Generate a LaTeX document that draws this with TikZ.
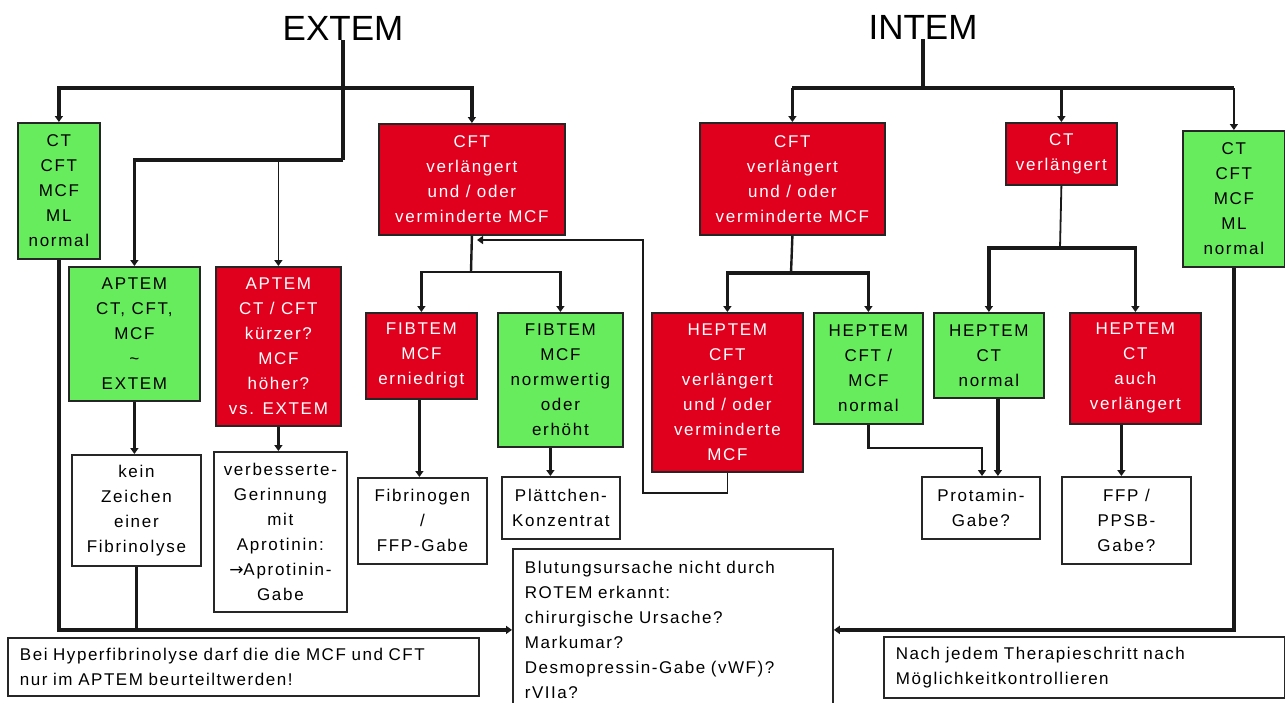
\documentclass[tikz,border=0pt]{standalone}
\usepackage{fontspec}
\setmainfont{Liberation Sans}
\newfontfamily\bxf{Liberation Sans}[LetterSpace=10]
\newfontfamily\btf{Liberation Sans}[LetterSpace=9]
\newfontfamily\arrf{DejaVu Sans}
\usetikzlibrary{arrows.meta}
\definecolor{exred}{RGB}{224,0,30}
\definecolor{exgreen}{RGB}{102,236,92}
\tikzset{
  bx/.style={draw=black!85, line width=1.8pt, anchor=north west, inner sep=0pt, align=center,
    font={\bxf\fontsize{17}{25}\selectfont}},
  redbx/.style={bx, fill=exred, text=white},
  grnbx/.style={bx, fill=exgreen, text=black},
  whbx/.style={bx, fill=white, text=black},
  notebx/.style={bx, fill=white, text=black, align=left, inner xsep=12pt,
    font={\btf\fontsize{17}{25}\selectfont}},
  title/.style={font={\fontsize{35}{40}\selectfont}, inner sep=0pt},
  tip/.style={-{Triangle[length=6pt,width=8pt]}},
  thk/.style={line width=3.2pt, draw=black!90},
  mid/.style={line width=2.4pt, draw=black!90},
  thn/.style={line width=1.8pt, draw=black!90}
}
\begin{document}
\begin{tikzpicture}[x=1pt,y=-1pt]
\useasboundingbox (0,0) rectangle (1285,702);
\clip (0,0) rectangle (1285,702);
\fill[white] (0,0) rectangle (1285,702);

% titles
\node[title] (extem) at (343,28) {EXTEM};
\node[title] (intem) at (923,27) {INTEM};

% EXTEM side
\node[grnbx, minimum width=82, minimum height=136] (ctL) at (17,122) {CT\\CFT\\MCF\\ML\\normal};
\node[redbx, minimum width=186, minimum height=111] (cftE) at (378,123) {CFT\\verlängert\\und / oder\\verminderte MCF};
\node[grnbx, minimum width=131, minimum height=134] (aptG) at (68,266) {APTEM\\CT, CFT,\\MCF\\\textasciitilde\\EXTEM};
\node[redbx, minimum width=125, minimum height=159] (aptR) at (215,266) {APTEM\\CT / CFT\\kürzer?\\MCF\\höher?\\vs. EXTEM};
\node[redbx, minimum width=111, minimum height=86] (fibR) at (365,312) {FIBTEM\\MCF\\erniedrigt};
\node[grnbx, minimum width=125, minimum height=134] (fibG) at (497,312) {FIBTEM\\MCF\\normwertig\\oder\\erhöht};
\node[whbx, minimum width=129, minimum height=111] (kein) at (71,454) {kein\\Zeichen\\einer\\Fibrinolyse};
\node[whbx, minimum width=133, minimum height=160] (verb) at (213,451) {verbesserte-\\Gerinnung\\mit\\Aprotinin:\\{\arrf →}Aprotinin-\\Gabe};
\node[whbx, minimum width=129, minimum height=86] (fibrin) at (357,477) {Fibrinogen\\/\\FFP-Gabe};
\node[whbx, minimum width=118, minimum height=62] (plaett) at (501,476) {Plättchen-\\Konzentrat};

% INTEM side
\node[redbx, minimum width=185, minimum height=112] (cftI) at (699,122) {CFT\\verlängert\\und / oder\\verminderte MCF};
\node[redbx, minimum width=111, minimum height=62] (ctvI) at (1005,122) {CT\\verlängert};
\node[grnbx, minimum width=102, minimum height=136] (ctR) at (1182,130) {CT\\CFT\\MCF\\ML\\normal};
\node[redbx, minimum width=151, minimum height=159] (hepR) at (651,312) {HEPTEM\\CFT\\verlängert\\und / oder\\verminderte\\MCF};
\node[grnbx, minimum width=109, minimum height=111] (hepG1) at (813,312) {HEPTEM\\CFT /\\MCF\\normal};
\node[grnbx, minimum width=110, minimum height=85] (hepG2) at (933,312) {HEPTEM\\CT\\normal};
\node[redbx, minimum width=131, minimum height=111] (hepR2) at (1069,312) {HEPTEM\\CT\\auch\\verlängert};
\node[whbx, minimum width=118, minimum height=62] (protamin) at (921,476) {Protamin-\\Gabe?};
\node[whbx, minimum width=129, minimum height=87] (ffp) at (1061,476) {FFP /\\PPSB-\\Gabe?};

% bottom notes
\node[notebx, minimum width=320, minimum height=162, text width=296] (blut) at (512,548)
  {Blutungsursache nicht durch\\ROTEM erkannt:\\chirurgische Ursache?\\Markumar?\\Desmopressin-Gabe (vWF)?\\rVIIa?};
\node[notebx, minimum width=471, minimum height=58, text width=447] (botL) at (7,637)
  {Bei Hyperfibrinolyse darf die die MCF und CFT\\nur im APTEM beurteiltwerden!};
\node[notebx, minimum width=401, minimum height=61, text width=377] (botR) at (883,636)
  {Nach jedem Therapieschritt nach\\Möglichkeitkontrollieren};

% junction coordinates
\coordinate (e1) at (343,88);
\coordinate (e2) at (343,160);
\coordinate (e3) at (471,272);
\coordinate (i1) at (923,88);
\coordinate (i2) at (791,273);
\coordinate (i3) at (1060,248);
\coordinate (p1) at (982,448);
\coordinate (fb1) at (643,493);
\coordinate (fb2) at (643,240);
\coordinate (fbend) at (477,240);

% EXTEM connectors
\draw[thk] (extem.south) -- (e2);
\draw[thk,tip] (e1) -| (ctL.north);
\draw[thk,tip] (e1) -| (cftE.north);
\draw[thk,tip] (e2) -| (aptG.north);
\draw[thn,tip] (aptR.north |- e2) -- (aptR.north);
\draw[thk,tip] (aptG.south) -- (aptG.south |- kein.north);
\draw[thk,tip] (aptR.south) -- (aptR.south |- verb.north);
\draw[mid] (cftE.south) -- (e3);
\draw[mid,tip] (e3) -| (fibR.north);
\draw[mid,tip] (e3) -| (fibG.north);
\draw[thk,tip] ([xshift=-2pt]fibR.south) -- ([xshift=-2pt]fibR.south |- fibrin.north);
\draw[thk,tip] ([xshift=-10pt]fibG.south) -- ([xshift=-10pt]fibG.south |- plaett.north);
\draw[thk,tip] (ctL.south) |- (blut.west);
\draw[thk] (kein.south) -- (kein.south |- blut.west);

% feedback HEPTEM -> CFT (EXTEM)
\draw[thn,tip] (hepR.south) |- (fb1) -- (fb2) -- (fbend);

% INTEM connectors
\draw[thk] (intem.south) -- (i1);
\draw[thk] (cftI.north |- i1) -- (ctR.north |- i1);
\draw[thk,tip] (cftI.north |- i1) -- (cftI.north);
\draw[mid,tip] (ctvI.north |- i1) -- (ctvI.north);
\draw[mid,tip] (ctR.north |- i1) -- (ctR.north);
\draw[mid] (cftI.south) -- (i2);
\draw[thk,tip] (i2) -| (hepR.north);
\draw[thk,tip] (i2) -| (hepG1.north);
\draw[thn] (ctvI.south) -- (i3);
\draw[thk,tip] (i3) -| (hepG2.north);
\draw[thk,tip] (i3) -| (hepR2.north);
\draw[mid,tip] (hepG1.south) |- (p1) -- (p1 |- protamin.north);
\draw[thk,tip] ([xshift=9pt]hepG2.south) -- ([xshift=9pt]hepG2.south |- protamin.north);
\draw[thk,tip] ([xshift=-14pt]hepR2.south) -- ([xshift=-14pt]hepR2.south |- ffp.north);
\draw[thk,tip] (ctR.south) |- (blut.east);
\end{tikzpicture}
\end{document}
